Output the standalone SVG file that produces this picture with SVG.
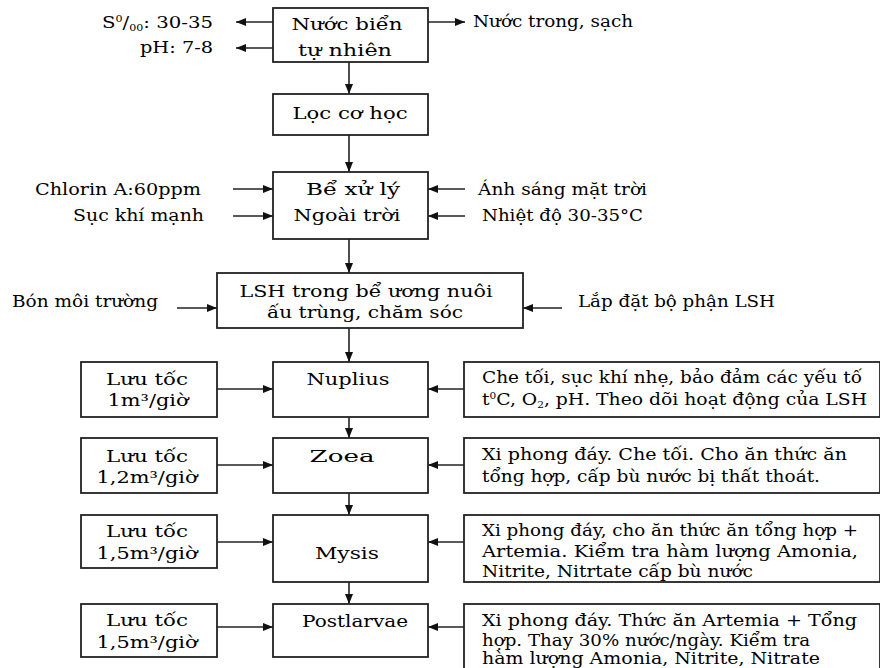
<svg xmlns="http://www.w3.org/2000/svg" width="880" height="668" viewBox="0 0 880 668">
<style>
text{font-family:"DejaVu Serif","Liberation Serif",serif;font-size:16px;fill:#000}
.m{text-anchor:middle}.e{text-anchor:end}
rect{fill:#fff;stroke:#222;stroke-width:1.8}
.c line{stroke:#222;stroke-width:1.6}
.sm{font-size:9px}
</style>
<defs>
<marker id="a" viewBox="0 0 10 8" refX="10" refY="4" markerWidth="10" markerHeight="8" markerUnits="userSpaceOnUse" orient="auto"><path d="M0,0L10,4L0,8z" fill="#111"/></marker>
</defs>
<rect x="0" y="0" width="880" height="668" style="fill:#fff;stroke:none"/>
<g class="c">
<line x1="349" y1="62" x2="349" y2="94" marker-end="url(#a)"/>
<line x1="349" y1="135" x2="349" y2="172" marker-end="url(#a)"/>
<line x1="349" y1="239" x2="349" y2="273" marker-end="url(#a)"/>
<line x1="349" y1="328" x2="349" y2="362" marker-end="url(#a)"/>
<line x1="349" y1="417" x2="349" y2="438" marker-end="url(#a)"/>
<line x1="349" y1="493" x2="349" y2="515" marker-end="url(#a)"/>
<line x1="349" y1="582" x2="349" y2="604" marker-end="url(#a)"/>
<line x1="273" y1="22" x2="236" y2="22" marker-end="url(#a)"/>
<line x1="273" y1="48" x2="236" y2="48" marker-end="url(#a)"/>
<line x1="428" y1="22" x2="465" y2="22" marker-end="url(#a)"/>
<line x1="233" y1="189" x2="273" y2="189" marker-end="url(#a)"/>
<line x1="233" y1="216" x2="273" y2="216" marker-end="url(#a)"/>
<line x1="465" y1="189" x2="428" y2="189" marker-end="url(#a)"/>
<line x1="465" y1="216" x2="428" y2="216" marker-end="url(#a)"/>
<line x1="177" y1="308" x2="217" y2="308" marker-end="url(#a)"/>
<line x1="562" y1="308" x2="523" y2="308" marker-end="url(#a)"/>
<line x1="217" y1="389" x2="273" y2="389" marker-end="url(#a)"/>
<line x1="464" y1="389" x2="428" y2="389" marker-end="url(#a)"/>
<line x1="217" y1="465" x2="273" y2="465" marker-end="url(#a)"/>
<line x1="464" y1="465" x2="428" y2="465" marker-end="url(#a)"/>
<line x1="217" y1="542" x2="273" y2="542" marker-end="url(#a)"/>
<line x1="464" y1="542" x2="428" y2="542" marker-end="url(#a)"/>
<line x1="217" y1="627" x2="273" y2="627" marker-end="url(#a)"/>
<line x1="464" y1="627" x2="428" y2="627" marker-end="url(#a)"/>
</g>
<g id="labels">
<text x="102" y="28" textLength="111" lengthAdjust="spacingAndGlyphs">S<tspan class="sm" dy="-6">0</tspan><tspan dy="6">/</tspan><tspan class="sm" dy="3">00</tspan><tspan dy="-3">: 30-35</tspan></text>
<text x="213" y="53" class="e" textLength="73" lengthAdjust="spacingAndGlyphs">pH: 7-8</text>
<text x="473" y="27" textLength="160" lengthAdjust="spacingAndGlyphs">Nước trong, sạch</text>
<text x="201" y="195" class="e" textLength="166" lengthAdjust="spacingAndGlyphs">Chlorin A:60ppm</text>
<text x="204" y="221" class="e" textLength="131" lengthAdjust="spacingAndGlyphs">Sục khí mạnh</text>
<text x="478" y="195" textLength="169" lengthAdjust="spacingAndGlyphs">Ánh sáng mặt trời</text>
<text x="482" y="221" textLength="161" lengthAdjust="spacingAndGlyphs">Nhiệt độ 30-35°C</text>
<text x="12" y="307" textLength="146" lengthAdjust="spacingAndGlyphs">Bón môi trường</text>
<text x="578" y="307" textLength="197" lengthAdjust="spacingAndGlyphs">Lắp đặt bộ phận LSH</text>
</g>
<g id="n1"><rect x="273" y="8" width="155" height="54"/>
<text x="347" y="30" class="m" textLength="111" lengthAdjust="spacingAndGlyphs">Nước biển</text>
<text x="345" y="56" class="m" textLength="94" lengthAdjust="spacingAndGlyphs">tự nhiên</text></g>
<g id="n2"><rect x="273" y="94" width="155" height="41"/>
<text x="350" y="119" class="m" textLength="115" lengthAdjust="spacingAndGlyphs">Lọc cơ học</text></g>
<g id="n3"><rect x="273" y="172" width="155" height="67"/>
<text x="353" y="195" class="m" textLength="94" lengthAdjust="spacingAndGlyphs">Bể xử lý</text>
<text x="347" y="221" class="m" textLength="107" lengthAdjust="spacingAndGlyphs">Ngoài trời</text></g>
<g id="n4"><rect x="217" y="273" width="306" height="55"/>
<text x="366" y="297" class="m" textLength="253" lengthAdjust="spacingAndGlyphs">LSH trong bể ương nuôi</text>
<text x="365" y="318" class="m" textLength="196" lengthAdjust="spacingAndGlyphs">ấu trùng, chăm sóc</text></g>
<g id="n5"><rect x="273" y="362" width="155" height="55"/>
<text x="348" y="385" class="m" textLength="83" lengthAdjust="spacingAndGlyphs">Nuplius</text></g>
<g id="n6"><rect x="273" y="438" width="155" height="55"/>
<text x="342" y="462" class="m" textLength="65" lengthAdjust="spacingAndGlyphs">Zoea</text></g>
<g id="n7"><rect x="273" y="515" width="155" height="67"/>
<text x="347" y="559" class="m" textLength="64" lengthAdjust="spacingAndGlyphs">Mysis</text></g>
<g id="n8"><rect x="273" y="604" width="155" height="53"/>
<text x="355" y="627" class="m" textLength="106" lengthAdjust="spacingAndGlyphs">Postlarvae</text></g>
<g id="l1"><rect x="81" y="362" width="136" height="55"/>
<text x="147" y="385" class="m" textLength="82" lengthAdjust="spacingAndGlyphs">Lưu tốc</text>
<text x="148" y="406" class="m" textLength="81" lengthAdjust="spacingAndGlyphs">1m³/giờ</text></g>
<g id="l2"><rect x="81" y="438" width="136" height="55"/>
<text x="147" y="462" class="m" textLength="82" lengthAdjust="spacingAndGlyphs">Lưu tốc</text>
<text x="147" y="483" class="m" textLength="101" lengthAdjust="spacingAndGlyphs">1,2m³/giờ</text></g>
<g id="l3"><rect x="81" y="515" width="136" height="53"/>
<text x="147" y="537" class="m" textLength="82" lengthAdjust="spacingAndGlyphs">Lưu tốc</text>
<text x="147" y="559" class="m" textLength="101" lengthAdjust="spacingAndGlyphs">1,5m³/giờ</text></g>
<g id="l4"><rect x="81" y="604" width="136" height="53"/>
<text x="147" y="626" class="m" textLength="82" lengthAdjust="spacingAndGlyphs">Lưu tốc</text>
<text x="147" y="648" class="m" textLength="101" lengthAdjust="spacingAndGlyphs">1,5m³/giờ</text></g>
<g id="r1"><rect x="464" y="362" width="416" height="55"/>
<text x="482" y="383" textLength="380" lengthAdjust="spacingAndGlyphs">Che tối, sục khí nhẹ, bảo đảm các yếu tố</text>
<text x="482" y="405" textLength="385" lengthAdjust="spacingAndGlyphs">t<tspan class="sm" dy="-6">0</tspan><tspan dy="6">C, O</tspan><tspan class="sm" dy="3">2</tspan><tspan dy="-3">, pH. Theo dõi hoạt động của LSH</tspan></text></g>
<g id="r2"><rect x="464" y="438" width="416" height="55"/>
<text x="482" y="460" textLength="365" lengthAdjust="spacingAndGlyphs">Xi phong đáy. Che tối. Cho ăn thức ăn</text>
<text x="482" y="482" textLength="338" lengthAdjust="spacingAndGlyphs">tổng hợp, cấp bù nước bị thất thoát.</text></g>
<g id="r3"><rect x="464" y="515" width="416" height="67"/>
<text x="482" y="536" textLength="376" lengthAdjust="spacingAndGlyphs">Xi phong đáy, cho ăn thức ăn tổng hợp +</text>
<text x="482" y="557" textLength="376" lengthAdjust="spacingAndGlyphs">Artemia. Kiểm tra hàm lượng Amonia,</text>
<text x="482" y="577" textLength="271" lengthAdjust="spacingAndGlyphs">Nitrite, Nitrtate cấp bù nước</text></g>
<g id="r4"><rect x="464" y="604" width="416" height="70"/>
<text x="482" y="626" textLength="375" lengthAdjust="spacingAndGlyphs">Xi phong đáy. Thức ăn Artemia + Tổng</text>
<text x="482" y="646" textLength="328" lengthAdjust="spacingAndGlyphs">hợp. Thay 30% nước/ngày. Kiểm tra</text>
<text x="482" y="664" textLength="338" lengthAdjust="spacingAndGlyphs">hàm lượng Amonia, Nitrite, Nitrate</text></g>
</svg>
